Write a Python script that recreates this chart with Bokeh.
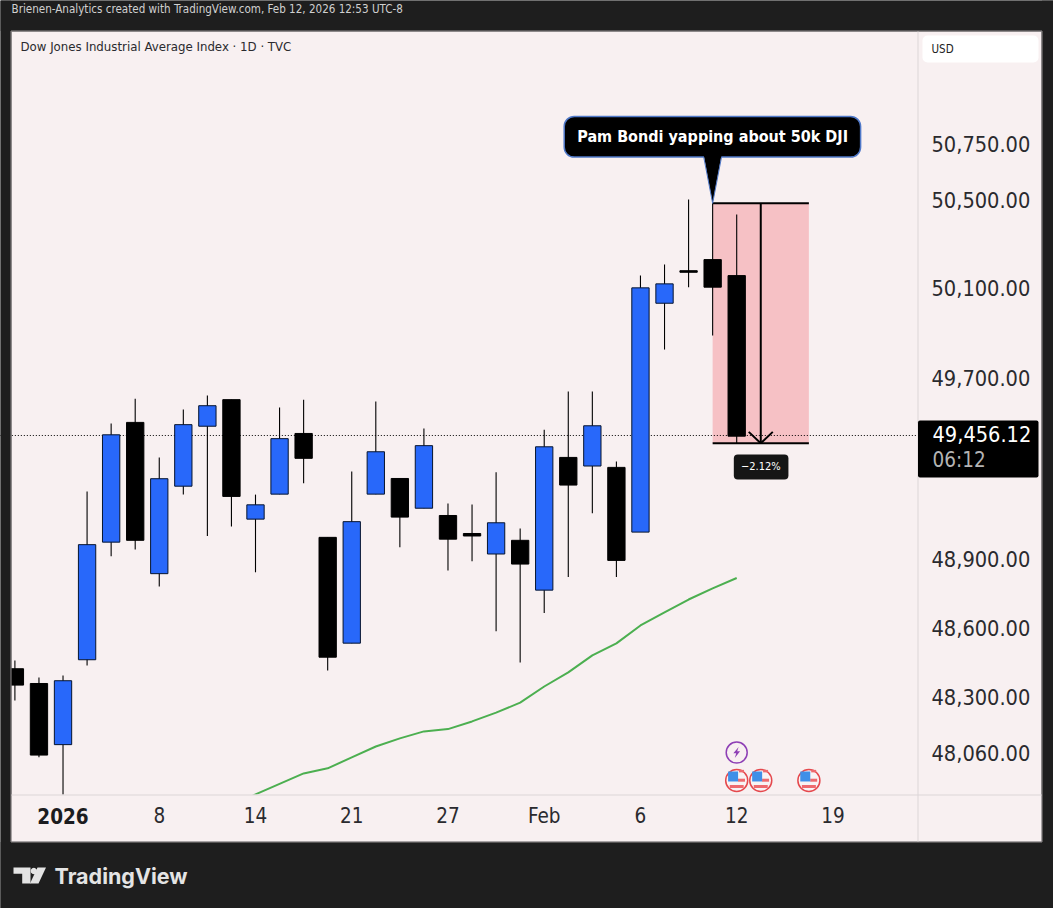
import math
from bokeh.plotting import figure
from bokeh.embed import file_html
from bokeh.resources import INLINE
from bokeh.core.properties import value
from bokeh.models import Range1d, FixedTicker, NumeralTickFormatter, BoxAnnotation, Label, PolyAnnotation, LinearAxis, LogAxis

# ---------- data ----------
OPEN  = [48422,48358,48094,48461,48974,49502,48836,49220,49485,49603,49075,49185,49453,48995,48533,49185,49254,49123,49091,49012,48922,48982,48764,49347,49309,49303,49018,50033,50179,50229,50157]
HIGH  = [48458,48384,48393,49197,49497,49607,49347,49559,49621,49603,49183,49568,49603,48995,49285,49595,49254,49475,49144,49139,49281,49034,49469,49639,49639,49329,50158,50207,50500,50483,50432]
LOW   = [48284,48040,47800,48436,48912,48942,48780,49183,49001,49043,48842,49185,49233,48414,48533,49185,48952,49123,48850,48890,48585,48449,48664,48821,49101,48821,49018,49826,50105,49889,49410]
CLOSE = [48351,48049,48370,48963,49447,48982,49253,49492,49576,49175,49138,49430,49343,48472,49064,49372,49084,49399,48987,49001,49059,48878,49394,49225,49487,48894,50102,50120,50172,50105,49441]
MA_X  = [9,10,11,12,13,14,15,16,17,18,19,20,21,22,23,24,25,26,27,28,29,30]
MA_Y  = [47828,47880,47925,47970,47992,48039,48086,48121,48151,48161,48194,48232,48275,48345,48406,48480,48532,48610,48667,48723,48772,48817]
Y_TICKS = [50750,50500,50100,49700,48900,48600,48300,48060]
X_TICKS = [6,10,14,18,22,26,30,34]
X_LABELS = ["8","14","21","27","Feb","6","12","19"]
YEAR_TICK = 2
YEAR_LABEL = "2026"
LAST_LEVEL = 49444
LAST_LABEL = "49,456.12"
COUNTDOWN = "06:12"
MEASURE_X = [29, 33]
MEASURE_Y = [50483, 49410]
MEASURE_LABEL = "\u22122.12%"
FLAG_X = [30, 31, 33]
BOLT_X = 30
TITLE = "Dow Jones Industrial Average Index \u00b7 1D \u00b7 TVC"
HEADER = "Brienen-Analytics created with TradingView.com, Feb 12, 2026 12:53 UTC-8"
CALLOUT = "Pam Bondi yapping about 50k DJI"

# ---------- style ----------
FONT = "DejaVu Sans Condensed"
DARK = "#1e1e1e"; PANE = "#f8f0f1"; BLUE = "#2868fa"; SEP = "#dbd6d7"; INK = "#2a2a2e"
X0, DX = 14.4, 24.06
W, H = 1053, 908
FR, FB = 917, 794

def data_x(px):
    return (px - X0) / DX
def data_y(py):
    return 50500 * math.exp(-(py - 199) / 11167)

p = figure(width=W, height=H, output_backend="svg", toolbar_location=None,
           y_axis_type="log", y_axis_location=None, x_axis_location=None,
           x_range=Range1d(data_x(0), data_x(W)), y_range=Range1d(data_y(H), data_y(0)),
           min_border_left=0, min_border_top=0, min_border_right=0, min_border_bottom=0)
p.styles = {"position": "absolute", "left": "0px", "top": "0px"}
p.border_fill_color = DARK
p.background_fill_color = DARK
p.outline_line_color = None
p.grid.visible = False

SX = lambda px: px
SY = lambda py: H - py

def box(l, t, r, b, fill, line=None, radius=0, level="annotation"):
    p.add_layout(BoxAnnotation(left=SX(l), right=SX(r), top=SY(t), bottom=SY(b),
                      left_units="screen", right_units="screen", top_units="screen", bottom_units="screen",
                      fill_color=fill or PANE, fill_alpha=1 if fill else 0, line_color=line, line_alpha=1 if line else 0,
                      line_width=1, border_radius=radius, level=level))

def text(px, py, s, size, color, style="normal", font=FONT, align="left"):
    p.add_layout(Label(x=SX(px), y=SY(py), x_units="screen", y_units="screen", text=s,
                       text_font=font, text_font_size=f"{size}px", text_color=color,
                       text_font_style=style, text_baseline="middle", text_align=align))

# chart pane beneath the marks
box(11, 31, 1041, 841, PANE, level="underlay")

# measure box (beneath candles)
p.quad(left=MEASURE_X[0], right=MEASURE_X[1], top=MEASURE_Y[0], bottom=MEASURE_Y[1],
       fill_color="#f6c1c5", line_color=None)
# last price line
p.line([-1, data_x(FR)], [LAST_LEVEL, LAST_LEVEL], line_color="#000000", line_width=1, line_dash=[1, 2])

# candles
xs = list(range(len(OPEN)))
cols = [BLUE if c > o else "#000000" for o, c in zip(OPEN, CLOSE)]
edges = ["#06142e" if c > o else "#000000" for o, c in zip(OPEN, CLOSE)]
p.segment(xs, HIGH, xs, LOW, line_color="#000000", line_width=1.1)
p.vbar(x=xs, top=[max(o, c) for o, c in zip(OPEN, CLOSE)], bottom=[min(o, c) for o, c in zip(OPEN, CLOSE)],
       width=0.72, fill_color=cols, line_color=edges, line_width=1)

# moving average
p.line(MA_X, MA_Y, line_color="#4caf50", line_width=2)

# measure lines
mid = (MEASURE_X[0] + MEASURE_X[1]) / 2
p.segment(MEASURE_X[0], MEASURE_Y[0], MEASURE_X[1], MEASURE_Y[0], line_color="#000000", line_width=2)
p.segment(MEASURE_X[0], MEASURE_Y[1], MEASURE_X[1], MEASURE_Y[1], line_color="#000000", line_width=2)
p.segment(mid, MEASURE_Y[0], mid, MEASURE_Y[1], line_color="#000000", line_width=2)
p.line([mid - 0.5, mid, mid + 0.5], [MEASURE_Y[1] + 50, MEASURE_Y[1], MEASURE_Y[1] + 50], line_color="#000000", line_width=2)
p.quad(left=[mid - 1.12], right=[mid + 1.15], top=[49360], bottom=[49250], fill_color="#151515", line_color=None, border_radius=4)
p.text([mid], [49305], [MEASURE_LABEL], text_color="#ffffff", text_font=value(FONT), text_font_size="11px",
       text_align="center", text_baseline="middle")

# callout
p.quad(left=[22.83], right=[35.15], top=[50877], bottom=[50692], fill_color="#000000",
       line_color="#4f78c8", line_width=1.5, border_radius=10)
p.patch([28.63, 29.37, MEASURE_X[0]], [50700, 50700, MEASURE_Y[0]], fill_color="#000000", line_color=None)
p.line([28.63, MEASURE_X[0], 29.37], [50692, MEASURE_Y[0], 50692], line_color="#4f78c8", line_width=1)
p.text([29], [50785], [CALLOUT], text_color="#ffffff", text_font=value(FONT), text_font_size="16px",
       text_font_style="bold", text_align="center", text_baseline="middle")

# events: lightning and flags
FLAG_PRICE = 47940
BOLT_PRICE = 48060
p.scatter([BOLT_X], [BOLT_PRICE], size=21, marker="circle", fill_color=PANE, line_color="#8e3fb5", line_width=1.5)
p.patch([BOLT_X + 0.08, BOLT_X - 0.14, BOLT_X - 0.02, BOLT_X - 0.08, BOLT_X + 0.14, BOLT_X + 0.02],
        [BOLT_PRICE + 24, BOLT_PRICE - 3, BOLT_PRICE - 3, BOLT_PRICE - 24, BOLT_PRICE + 5, BOLT_PRICE + 5],
        fill_color="#8e3fb5", line_color=None)
for fx in FLAG_X:
    p.scatter([fx], [FLAG_PRICE], size=22, marker="circle", fill_color="#f8f3f4", line_color="#e5484d", line_width=1.5)
    p.rect([fx + 0.2, fx + 0.2, fx], [FLAG_PRICE + 40, FLAG_PRICE + 1, FLAG_PRICE - 26],
           width=[5, 7, 14], height=[2.5, 3, 3], width_units="screen", height_units="screen",
           fill_color="#ee6a6e", line_color=None)
    p.rect([fx - 0.15], [FLAG_PRICE + 17], width=10, height=10, width_units="screen", height_units="screen",
           fill_color="#3f8fe8", line_color=None)

# page strips and panes over any overflow of the marks
box(0, 0, 10.5, H, DARK)
box(0, 0, W, 30.5, DARK)
box(11, FB, 1041, 841, PANE)
box(0, 841.5, W, H, DARK)
box(1041.5, 0, W, H, DARK)
box(10.5, 30.5, 1041.5, 841.5, None, "#8f8b8c")
box(FR, 31, FR + 1, 841, SEP)
box(11, FB, 1041, FB + 1, SEP)

# axes
ax = LogAxis(fixed_location=data_x(FR), ticker=FixedTicker(ticks=Y_TICKS),
             formatter=NumeralTickFormatter(format="0,0.00"), level="overlay")
ax.major_tick_line_color = None; ax.minor_tick_line_color = None; ax.axis_line_color = None
ax.major_label_standoff = 8
ax.major_label_text_font = FONT; ax.major_label_text_font_size = "21.6px"; ax.major_label_text_color = INK
p.add_layout(ax, "right")
bx = LinearAxis(fixed_location=data_y(FB), ticker=FixedTicker(ticks=X_TICKS), level="overlay")
bx.major_label_overrides = dict(zip(X_TICKS, X_LABELS))
bx.major_tick_line_color = None; bx.minor_tick_line_color = None; bx.axis_line_color = None
bx.major_label_standoff = 3
bx.major_label_text_font = FONT; bx.major_label_text_font_size = "20.5px"; bx.major_label_text_color = INK
p.add_layout(bx, "below")

# header / titles
text(11, 8, HEADER, 11.55, "#d0d0d0")
text(20, 46, TITLE, 13.1, INK)
p.add_layout(Label(x=YEAR_TICK, y=SY(815.5), x_units="data", y_units="screen", text=YEAR_LABEL,
                   text_font=FONT, text_font_size="20.5px", text_font_style="bold", text_color="#1c1c20",
                   text_baseline="middle", text_align="center"))
box(922, 35, 1038, 62, "#ffffff", None, 5)
text(931, 48.5, "USD", 11.5, "#222222")

# last price tag
box(917.5, 420, 1038, 477, "#000000", None, 2)
text(932, 433.5, LAST_LABEL, 21.6, "#ffffff")
text(932, 459.5, COUNTDOWN, 20.5, "#b4b4b4")

# tradingview logo
def poly(pts, c="#e4e4e4"):
    p.add_layout(PolyAnnotation(xs=[SX(a) for a, _ in pts], ys=[SY(b) for _, b in pts],
                                xs_units="screen", ys_units="screen", fill_color=c, fill_alpha=1, line_color=None))
poly([(13, 867), (30, 867), (30, 883), (21.7, 883), (21.7, 873.3), (13, 873.3)])
poly([(37, 867), (45.5, 867), (38, 883), (29.5, 883)])
poly([(33.3 + 3.2 * math.cos(k * math.pi / 6), 870.5 + 3.2 * math.sin(k * math.pi / 6)) for k in range(12)])
text(54, 875.5, "TradingView", 21.5, "#e4e4e4", style="bold", font="Inter")

open("out.html", "w").write(file_html(p, INLINE))
